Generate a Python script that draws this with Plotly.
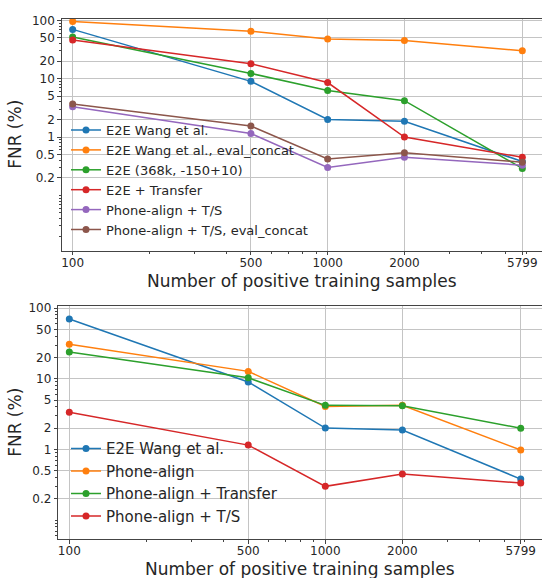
import plotly.graph_objects as go
import math

samples = [100, 500, 1000, 2000, 5799]

# top panel series
e2e_wang = [70, 9.0, 2.0, 1.87, 0.38]
e2e_wang_concat = [96, 65, 48, 45, 30]
e2e_368k = [52, 12.3, 6.3, 4.2, 0.29]
e2e_transfer = [46, 18, 8.6, 1.0, 0.45]
phone_ts = [3.3, 1.15, 0.30, 0.45, 0.33]
phone_ts_concat = [3.7, 1.54, 0.42, 0.54, 0.37]

# bottom panel series
b_e2e_wang = [70, 9.0, 2.0, 1.88, 0.38]
b_phone_align = [30.7, 12.7, 4.05, 4.2, 0.98]
b_phone_transfer = [23.9, 10.3, 4.2, 4.14, 1.99]
b_phone_ts = [3.35, 1.15, 0.30, 0.45, 0.335]

top_names = ["E2E Wang et al.", "E2E Wang et al., eval_concat", "E2E (368k, -150+10)",
             "E2E + Transfer", "Phone-align + T/S", "Phone-align + T/S, eval_concat"]
bottom_names = ["E2E Wang et al.", "Phone-align", "Phone-align + Transfer", "Phone-align + T/S"]

y_ticks = [0.2, 0.5, 1, 2, 5, 10, 20, 50, 100]
y_ticktext = ["0.2", "0.5", "1", "2", "5", "10", "20", "50", "100"]
x_ticktext = ["100", "500", "1000", "2000", "5799"]

colors = ["#1f77b4", "#ff7f0e", "#2ca02c", "#d62728", "#9467bd", "#8c564b"]

W, H = 542, 578
FONT = "DejaVu Sans"
TXT = "#262626"

fig = go.Figure()
for name, vals, c in zip(top_names,
                         [e2e_wang, e2e_wang_concat, e2e_368k, e2e_transfer, phone_ts, phone_ts_concat],
                         colors):
    fig.add_trace(go.Scatter(x=samples, y=vals, name=name, mode="lines+markers",
                             line=dict(color=c, width=1.5), marker=dict(color=c, size=7),
                             xaxis="x", yaxis="y", legend="legend"))
for name, vals, c in zip(bottom_names,
                         [b_e2e_wang, b_phone_align, b_phone_transfer, b_phone_ts],
                         colors):
    fig.add_trace(go.Scatter(x=samples, y=vals, name=name, mode="lines+markers",
                             line=dict(color=c, width=1.5), marker=dict(color=c, size=7),
                             xaxis="x2", yaxis="y2", legend="legend2"))

y_minor = [n * 10 ** k for k in range(-2, 3) for n in range(1, 10)]
y_minor = [v for v in y_minor if all(abs(v - t) > 1e-9 for t in y_ticks)]
x_minor = [200, 300, 400, 600, 700, 800, 900, 3000, 4000, 5000, 6000]

def xaxis(domain, rng, anchor):
    return dict(type="log", domain=domain, range=rng, anchor=anchor,
                tickmode="array", tickvals=samples, ticktext=x_ticktext,
                ticks="outside", ticklen=3.5, tickcolor="#444", tickwidth=1,
                ticklabelstandoff=-3,
                minor=dict(tickvals=x_minor, ticks="outside", ticklen=2, tickcolor="#444", showgrid=False),
                showline=True, linecolor="#444", linewidth=1, mirror=True,
                showgrid=True, gridcolor="#c4c4c4", gridwidth=1, zeroline=False,
                tickfont=dict(family=FONT, size=12, color=TXT))

def yaxis(domain, rng, anchor):
    return dict(type="log", domain=domain, range=rng, anchor=anchor,
                tickmode="array", tickvals=y_ticks, ticktext=y_ticktext,
                ticks="outside", ticklen=3.5, tickcolor="#444", tickwidth=1,
                minor=dict(tickvals=y_minor, ticks="outside", ticklen=2, tickcolor="#444", showgrid=False),
                showline=True, linecolor="#444", linewidth=1, mirror=False,
                showgrid=True, gridcolor="#c4c4c4", gridwidth=1, zeroline=False,
                tickfont=dict(family=FONT, size=12, color=TXT))

top_left = 61.7
bot_left = 58.3
fig.update_layout(
    width=W, height=H,
    margin=dict(l=0, r=0, t=0, b=0),
    paper_bgcolor="white", plot_bgcolor="white",
    font=dict(family=FONT, color=TXT),
    xaxis=xaxis([top_left / W, 1.0], [1.957, 1.957 + (W - top_left) / 255], "y"),
    yaxis=yaxis([(H - 248) / H, (H - 14) / H], [math.log10(0.0112), math.log10(106)], "x"),
    xaxis2=xaxis([bot_left / W, 1.0], [1.957, 1.957 + (W - bot_left) / 256], "y2"),
    yaxis2=yaxis([(H - 539) / H, (H - 304) / H], [math.log10(0.0534), math.log10(105.6)], "x2"),
    legend=dict(x=66 / W, y=(H - 111) / H, xanchor="left", yanchor="top",
                bgcolor="rgba(0,0,0,0)", borderwidth=0,
                font=dict(family=FONT, size=13, color=TXT)),
    legend2=dict(x=66 / W, y=(H - 431) / H, xanchor="left", yanchor="top",
                 bgcolor="rgba(0,0,0,0)", borderwidth=0,
                 font=dict(family=FONT, size=15, color=TXT)),
    showlegend=True,
)

ann = [
    dict(text="Number of positive training samples", x=(top_left + W) / 2 / W, y=(H - 278.5) / H),
    dict(text="Number of positive training samples", x=(bot_left + W) / 2 / W, y=(H - 568.5) / H),
]
for a in ann:
    fig.add_annotation(xref="paper", yref="paper", showarrow=False, xanchor="center", yanchor="middle",
                       font=dict(family=FONT, size=17, color=TXT), **a)
for yc in [131, 421.5]:
    fig.add_annotation(text="FNR (%)", xref="paper", yref="paper", x=15 / W, y=(H - yc) / H,
                       showarrow=False, textangle=-90, xanchor="center", yanchor="middle",
                       font=dict(family=FONT, size=17, color=TXT))

fig.write_html("out.html", config={"displayModeBar": False},
               post_script="document.body.style.margin='0px';document.body.style.overflow='hidden';")
